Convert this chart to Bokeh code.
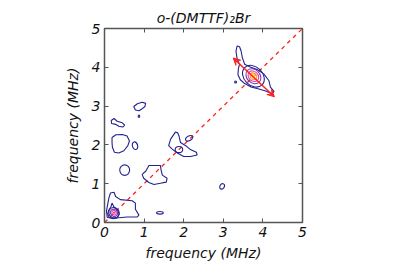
from bokeh.plotting import figure
from bokeh.models import LinearAxis, Range1d, Arrow, VeeHead, FixedTicker
from bokeh.embed import file_html
from bokeh.resources import INLINE

title_text = "o-(DMTTF)\u2082Br"
x_label = "frequency (MHz)"
y_label = "frequency (MHz)"
tick_values = [0, 1, 2, 3, 4, 5]

# outer contour of the main peak
peak_outer_x = [3.35, 3.32, 3.35, 3.41, 3.38, 3.37, 3.43, 3.54, 3.70, 3.90, 4.07, 4.23, 4.28,
                4.19, 4.15, 4.02, 3.86, 3.69, 3.54, 3.48, 3.45, 3.41]
peak_outer_y = [4.55, 4.42, 4.21, 4.08, 3.96, 3.81, 3.68, 3.58, 3.49, 3.44, 3.39, 3.32, 3.38,
                3.49, 3.66, 3.83, 3.94, 4.00, 4.08, 4.25, 4.42, 4.53]

# irregular lowest-level contours
island_xs = [
    [0.74, 0.83, 0.95, 1.04, 1.02, 0.95, 0.87, 0.78],
    [0.17, 0.24, 0.32, 0.45, 0.51, 0.46, 0.36, 0.28, 0.18],
    [0.19, 0.29, 0.45, 0.57, 0.63, 0.59, 0.49, 0.36, 0.25, 0.20, 0.19],
    [1.12, 1.41, 1.43, 1.46, 1.58, 1.56, 1.41, 1.25, 1.12, 0.99, 0.95, 1.04, 1.09],
    [1.79, 1.67, 1.62, 1.71, 1.84, 2.00, 2.17, 2.34, 2.32, 2.17, 2.05, 1.92, 1.88, 1.85],
    [0.05, 0.11, 0.15, 0.24, 0.28, 0.40, 0.70, 0.78, 0.78, 0.87, 0.82, 0.57, 0.24, 0.07],
    [0.19, 0.24, 0.33, 0.37, 0.32, 0.22, 0.12, 0.08, 0.11, 0.16],
]
island_ys = [
    [2.99, 3.06, 3.10, 3.07, 2.99, 2.93, 2.88, 2.90],
    [2.63, 2.68, 2.61, 2.57, 2.51, 2.46, 2.48, 2.53, 2.55],
    [2.19, 2.26, 2.27, 2.23, 2.10, 1.98, 1.85, 1.79, 1.81, 1.94, 2.06],
    [1.47, 1.47, 1.35, 1.22, 1.14, 1.04, 1.01, 0.98, 1.03, 1.14, 1.24, 1.32, 1.41],
    [2.33, 2.15, 1.98, 1.89, 1.79, 1.70, 1.70, 1.74, 1.81, 1.88, 1.98, 2.06, 2.23, 2.31],
    [0.30, 0.63, 0.76, 0.78, 0.67, 0.59, 0.56, 0.50, 0.34, 0.19, 0.14, 0.14, 0.11, 0.13],
    [0.50, 0.40, 0.32, 0.22, 0.13, 0.10, 0.13, 0.22, 0.32, 0.40],
]

# small oval contours
oval_x = [0.87, 0.77, 0.51, 1.88, 2.14, 2.97, 1.40, 3.31]
oval_y = [2.74, 1.98, 1.35, 1.88, 2.17, 0.93, 0.25, 3.62]
oval_w = [0.04, 0.13, 0.25, 0.19, 0.20, 0.11, 0.17, 0.05]
oval_h = [0.06, 0.20, 0.27, 0.16, 0.12, 0.15, 0.07, 0.05]
oval_angle = [0, 15, 0, 0, 30, -30, 0, 0]

# nested rings around the two peaks
ring_x = [3.76, 3.76, 3.76, 3.76, 0.24, 0.24, 0.24]
ring_y = [3.77, 3.77, 3.77, 3.77, 0.25, 0.25, 0.25]
ring_w = [0.62, 0.42, 0.30, 0.19, 0.28, 0.19, 0.12]
ring_h = [0.48, 0.34, 0.24, 0.15, 0.26, 0.17, 0.10]
ring_color = ["#22228f", "#7a3aa8", "#e040c0", "#ff8c1a", "#22228f", "#7a3aa8", "#e040c0"]

core_x = [3.76, 0.24]
core_y = [3.77, 0.25]
core_w = [0.12, 0.05]
core_h = [0.09, 0.05]
core_color = ["#ffe020", "#ff3030"]

diag_x = [0, 5]
diag_y = [0, 5]
arrow_start = (3.25, 4.24)
arrow_end = (4.29, 3.24)

navy = "#22228f"
red = "#ff2020"
frame_col = "#555555"
text_col = "#111111"

p = figure(width=399, height=263, x_range=Range1d(0, 5), y_range=Range1d(0, 5),
           output_backend="svg", toolbar_location=None,
           min_border_left=104, min_border_right=97, min_border_top=28, min_border_bottom=38)
p.grid.visible = False
p.outline_line_color = frame_col
p.outline_line_width = 1.5


def style_ticks(ax):
    ax.ticker = FixedTicker(ticks=tick_values)
    ax.axis_line_color = None
    ax.major_tick_in = 4
    ax.major_tick_out = 0
    ax.major_tick_line_color = frame_col
    ax.minor_tick_line_color = None
    ax.axis_label_text_font = "DejaVu Sans"
    ax.axis_label_text_font_style = "italic"
    ax.axis_label_text_font_size = "14px"
    ax.axis_label_text_color = text_col


for ax in (p.xaxis[0], p.yaxis[0]):
    style_ticks(ax)
    ax.major_label_text_font = "DejaVu Sans"
    ax.major_label_text_font_style = "italic"
    ax.major_label_text_font_size = "14px"
    ax.major_label_text_color = text_col
    ax.major_label_standoff = 4
    ax.axis_label_standoff = 5
p.xaxis[0].axis_label = x_label
p.yaxis[0].axis_label = y_label
p.yaxis[0].axis_label_standoff = 8

for loc in ("above", "right"):
    ax = LinearAxis()
    style_ticks(ax)
    ax.major_label_text_alpha = 0
    ax.major_label_text_font_size = "1px"
    ax.major_label_standoff = 0
    if loc == "above":
        ax.axis_label = title_text
        ax.axis_label_standoff = 3
    p.add_layout(ax, loc)

p.line(diag_x, diag_y, line_color=red, line_width=1.3, line_dash="4 4")

p.patches([peak_outer_x], [peak_outer_y], fill_color=None, line_color=navy, line_width=1.1)
p.patches(island_xs, island_ys, fill_color=None, line_color=navy, line_width=1.1)
p.ellipse(x=oval_x, y=oval_y, width=oval_w, height=oval_h, angle=oval_angle, angle_units="deg",
          fill_color=None, line_color=navy, line_width=1.1)
p.ellipse(x=core_x, y=core_y, width=core_w, height=core_h, angle=-45, angle_units="deg",
          fill_color=core_color, line_color=None)
p.ellipse(x=ring_x, y=ring_y, width=ring_w, height=ring_h, angle=-45, angle_units="deg",
          fill_color=None, line_color=ring_color, line_width=1.1)

p.add_layout(Arrow(x_start=arrow_start[0], y_start=arrow_start[1], x_end=arrow_end[0], y_end=arrow_end[1],
                   line_color=red, line_width=1.5,
                   start=VeeHead(size=7, line_color=red, fill_color=red, line_width=1),
                   end=VeeHead(size=7, line_color=red, fill_color=red, line_width=1)))

open("out.html", "w").write(file_html(p, INLINE))
